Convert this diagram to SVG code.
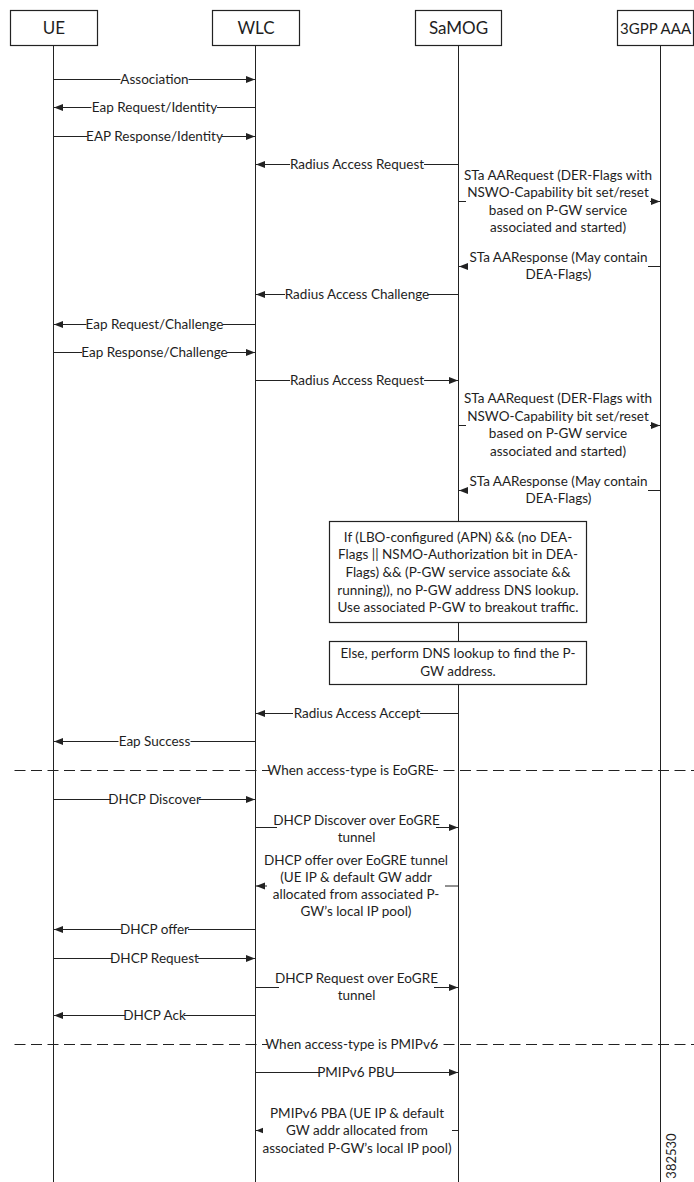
<svg xmlns="http://www.w3.org/2000/svg" width="694" height="1182" viewBox="0 0 694 1182">
<style>
.box{fill:#fff;stroke:#222;stroke-width:1.2}
.life{stroke:#222;stroke-width:1;fill:none}
.msg{stroke:#222;stroke-width:1;fill:none;marker-end:url(#ah)}
.dash{stroke:#222;stroke-width:1;fill:none;stroke-dasharray:11 5.5}
.bg{fill:#fff}
text{font-family:Lato,"Open Sans","Liberation Sans",sans-serif;fill:#1e1e1e}
.h{font-size:17px;text-anchor:middle}
.t{font-size:13.5px;text-anchor:middle}
.id{font-size:13px;text-anchor:middle}
</style>
<defs>
<marker id="ah" markerWidth="10" markerHeight="8" refX="9" refY="3.5" orient="auto" markerUnits="userSpaceOnUse">
<path d="M0,0 L9,3.5 L0,7 z" fill="#222"/>
</marker>
</defs>
<rect width="694" height="1182" fill="#fff"/>

<g id="lifelines">
<line class="life" x1="53.5" y1="45.5" x2="53.5" y2="1182"/>
<line class="life" x1="255.5" y1="45.5" x2="255.5" y2="1182"/>
<line class="life" x1="458.5" y1="45.5" x2="458.5" y2="1182"/>
<line class="life" x1="660.5" y1="45.5" x2="660.5" y2="1182"/>
</g>

<g id="node-UE"><rect class="box" x="10.5" y="10.5" width="87" height="35"/><text class="h" x="54" y="34">UE</text></g>
<g id="node-WLC"><rect class="box" x="212.5" y="10.5" width="87" height="35"/><text class="h" x="256" y="34">WLC</text></g>
<g id="node-SaMOG"><rect class="box" x="415.5" y="10.5" width="86" height="35"/><text class="h" x="458.5" y="34">SaMOG</text></g>
<g id="node-AAA"><rect class="box" x="617.5" y="10.5" width="76" height="35"/><text x="655.5" y="33.5" style="font-size:15px;text-anchor:middle">3GPP AAA</text></g>

<g id="connectors">
<line class="msg" x1="53.5" y1="79.5" x2="255" y2="79.5"/>
<rect class="bg" x="120.5" y="72" width="68" height="14"/>
<text class="t" x="154.5" y="84">Association</text>

<line class="msg" x1="255.5" y1="107.5" x2="54" y2="107.5"/>
<rect class="bg" x="91.5" y="100" width="125.5" height="14"/>
<text class="t" x="154.5" y="112">Eap Request/Identity</text>

<line class="msg" x1="53.5" y1="136.5" x2="255" y2="136.5"/>
<rect class="bg" x="87.5" y="129" width="134" height="14"/>
<text class="t" x="154.5" y="141">EAP Response/Identity</text>

<line class="msg" x1="458.5" y1="164.5" x2="256" y2="164.5"/>
<rect class="bg" x="290" y="157" width="134" height="14"/>
<text class="t" x="357" y="169">Radius Access Request</text>

<line class="msg" x1="458.5" y1="201.5" x2="660" y2="201.5"/>
<rect class="bg" x="466" y="166" width="184" height="70"/>
<text class="t" x="558" y="179.5">STa AARequest (DER-Flags with</text>
<text class="t" x="558" y="197">NSWO-Capability bit set/reset</text>
<text class="t" x="558" y="214.5">based on P-GW service</text>
<text class="t" x="558" y="232">associated and started)</text>

<line class="msg" x1="660.5" y1="266.5" x2="459" y2="266.5"/>
<rect class="bg" x="468" y="249" width="180" height="33"/>
<text class="t" x="558.5" y="261.5">STa AAResponse (May contain</text>
<text class="t" x="558.5" y="279">DEA-Flags)</text>

<line class="msg" x1="458.5" y1="294.5" x2="256" y2="294.5"/>
<rect class="bg" x="285" y="287" width="142.5" height="14"/>
<text class="t" x="357" y="299">Radius Access Challenge</text>

<line class="msg" x1="255.5" y1="324.5" x2="54" y2="324.5"/>
<rect class="bg" x="86.5" y="317" width="136" height="14"/>
<text class="t" x="154.5" y="329">Eap Request/Challenge</text>

<line class="msg" x1="53.5" y1="352.5" x2="255" y2="352.5"/>
<rect class="bg" x="82" y="345" width="145" height="14"/>
<text class="t" x="154.5" y="357">Eap Response/Challenge</text>

<line class="msg" x1="255.5" y1="380.5" x2="458" y2="380.5"/>
<rect class="bg" x="290" y="373" width="134" height="14"/>
<text class="t" x="357" y="385">Radius Access Request</text>

<line class="msg" x1="458.5" y1="425.5" x2="660" y2="425.5"/>
<rect class="bg" x="466" y="390" width="184" height="70"/>
<text class="t" x="558" y="403">STa AARequest (DER-Flags with</text>
<text class="t" x="558" y="420.5">NSWO-Capability bit set/reset</text>
<text class="t" x="558" y="438">based on P-GW service</text>
<text class="t" x="558" y="455.5">associated and started)</text>

<line class="msg" x1="660.5" y1="490.5" x2="459" y2="490.5"/>
<rect class="bg" x="468" y="473" width="180" height="33"/>
<text class="t" x="558.5" y="485.5">STa AAResponse (May contain</text>
<text class="t" x="558.5" y="503">DEA-Flags)</text>

<line class="msg" x1="458.5" y1="713.5" x2="256" y2="713.5"/>
<rect class="bg" x="293" y="706" width="127" height="14"/>
<text class="t" x="357" y="718">Radius Access Accept</text>

<line class="msg" x1="255.5" y1="741.5" x2="54" y2="741.5"/>
<rect class="bg" x="118.5" y="734" width="72" height="14"/>
<text class="t" x="154.5" y="746">Eap Success</text>

<line class="dash" x1="14.5" y1="770.5" x2="694" y2="770.5"/>
<rect class="bg" x="270" y="763" width="161" height="14"/>
<text class="t" x="350.5" y="775">When access-type is EoGRE</text>

<line class="msg" x1="53.5" y1="799.5" x2="255" y2="799.5"/>
<rect class="bg" x="111" y="792" width="88" height="14"/>
<text class="t" x="154.5" y="804">DHCP Discover</text>

<line class="msg" x1="255.5" y1="827.5" x2="458" y2="827.5"/>
<rect class="bg" x="277" y="812" width="159" height="33"/>
<text class="t" x="356.5" y="824.5">DHCP Discover over EoGRE</text>
<text class="t" x="356.5" y="841.5">tunnel</text>

<line class="msg" x1="458.5" y1="886" x2="256" y2="886"/>
<rect class="bg" x="267" y="851" width="178" height="70"/>
<text class="t" x="356" y="864.5">DHCP offer over EoGRE tunnel</text>
<text class="t" x="356" y="881.5">(UE IP &amp; default GW addr</text>
<text class="t" x="356" y="898.5">allocated from associated P-</text>
<text class="t" x="356" y="916">GW’s local IP pool)</text>

<line class="msg" x1="255.5" y1="929.5" x2="54" y2="929.5"/>
<rect class="bg" x="121" y="922" width="67" height="14"/>
<text class="t" x="154.5" y="934">DHCP offer</text>

<line class="msg" x1="53.5" y1="958.5" x2="255" y2="958.5"/>
<rect class="bg" x="112.5" y="951" width="85" height="14"/>
<text class="t" x="154.5" y="963">DHCP Request</text>

<line class="msg" x1="255.5" y1="987.5" x2="458" y2="987.5"/>
<rect class="bg" x="279" y="970" width="155" height="33"/>
<text class="t" x="356.5" y="982.5">DHCP Request over EoGRE</text>
<text class="t" x="356.5" y="1000">tunnel</text>

<line class="msg" x1="255.5" y1="1015.5" x2="54" y2="1015.5"/>
<rect class="bg" x="125" y="1008" width="59" height="14"/>
<text class="t" x="154.5" y="1020">DHCP Ack</text>

<line class="dash" x1="14.5" y1="1044.5" x2="694" y2="1044.5"/>
<rect class="bg" x="267.5" y="1037" width="168.5" height="14"/>
<text class="t" x="351.5" y="1049">When access-type is PMIPv6</text>

<line class="msg" x1="255.5" y1="1072.5" x2="458" y2="1072.5"/>
<rect class="bg" x="319" y="1065" width="74.5" height="14"/>
<text class="t" x="356" y="1077">PMIPv6 PBU</text>

<line class="msg" x1="458.5" y1="1130.5" x2="256" y2="1130.5"/>
<rect class="bg" x="263" y="1104" width="189" height="53"/>
<text class="t" x="357" y="1117.5">PMIPv6 PBA (UE IP &amp; default</text>
<text class="t" x="357" y="1135">GW addr allocated from</text>
<text class="t" x="357" y="1152.5">associated P-GW’s local IP pool)</text>
</g>

<g id="note-LBO">
<rect class="box" x="329.5" y="521.5" width="257" height="101"/>
<text class="t" x="458" y="541.5">If (LBO-configured (APN) &amp;&amp; (no DEA-</text>
<text class="t" x="458" y="559">Flags || NSMO-Authorization bit in DEA-</text>
<text class="t" x="458" y="577">Flags) &amp;&amp; (P-GW service associate &amp;&amp;</text>
<text class="t" x="458" y="594.5">running)), no P-GW address DNS lookup.</text>
<text class="t" x="458" y="611.5">Use associated P-GW to breakout traffic.</text>
</g>

<g id="note-DNS">
<rect class="box" x="329.5" y="641.5" width="257" height="43"/>
<text class="t" x="458" y="658">Else, perform DNS lookup to find the P-</text>
<text class="t" x="458" y="676">GW address.</text>
</g>

<text class="id" transform="translate(676,1156) rotate(-90)">382530</text>
</svg>
